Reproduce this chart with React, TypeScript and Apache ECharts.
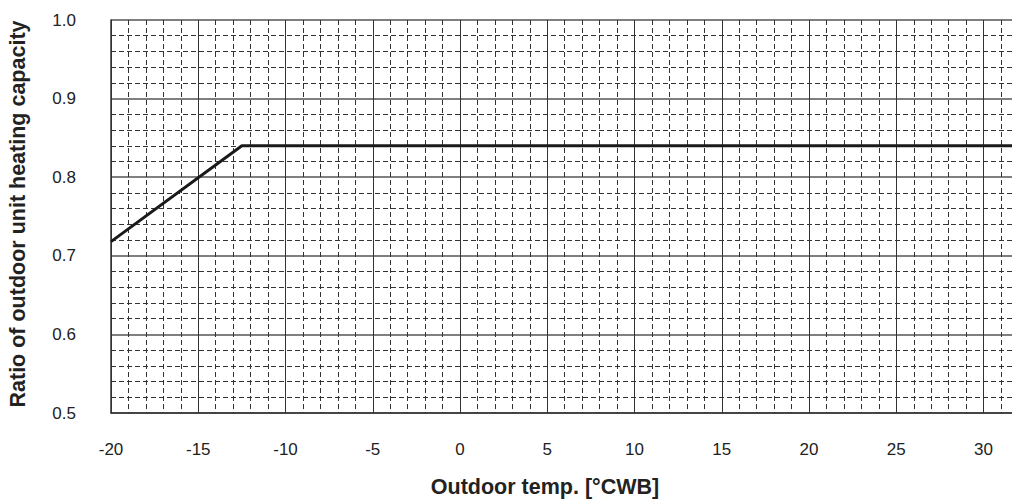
import React, { useEffect, useRef } from "react";
import * as echarts from "echarts";

const temps = [-20, -12.5, 32];
const ratios = [0.718, 0.84, 0.84];
const xTicks = [-20, -15, -10, -5, 0, 5, 10, 15, 20, 25, 30];
const yTicks = [0.5, 0.6, 0.7, 0.8, 0.9, 1.0];
const xTitle = "Outdoor temp. [°CWB]";
const yTitle = "Ratio of outdoor unit heating capacity";

export default function App() {
  const ref = useRef<HTMLDivElement>(null);
  useEffect(() => {
    if (!ref.current) return;
    const chart = echarts.init(ref.current, null, { renderer: "svg" });
    const font = "Liberation Sans, Arial, sans-serif";
    chart.setOption({
      animation: false,
      backgroundColor: "#ffffff",
      grid: { left: 111, top: 20, right: 0, bottom: 86, containLabel: false },
      xAxis: {
        type: "value",
        min: xTicks[0],
        max: 31.63,
        interval: 5,
        minorTick: { show: false, splitNumber: 5 },
        axisLine: { show: true, onZero: false, lineStyle: { color: "#333", width: 1.5 } },
        axisTick: { show: false },
        axisLabel: {
          margin: 28,
          fontSize: 17,
          fontFamily: font,
          color: "#222",
          showMaxLabel: false,
          formatter: (v: number) => (xTicks.includes(v) ? String(v) : ""),
        },
        splitLine: { show: true, lineStyle: { color: "#333", width: 1 } },
        minorSplitLine: { show: true, lineStyle: { color: "#333", width: 1, type: [5, 3] } },
      },
      yAxis: {
        type: "value",
        min: yTicks[0],
        max: yTicks[yTicks.length - 1],
        interval: 0.1,
        minorTick: { show: false, splitNumber: 5 },
        axisLine: { show: true, onZero: false, lineStyle: { color: "#333", width: 1.5 } },
        axisTick: { show: false },
        axisLabel: {
          margin: 35,
          fontSize: 17,
          fontFamily: font,
          color: "#222",
          formatter: (v: number) => v.toFixed(1),
        },
        splitLine: { show: true, showMinLine: true, showMaxLine: true, lineStyle: { color: "#555", width: 1.5 } },
        minorSplitLine: { show: true, lineStyle: { color: "#333", width: 1, type: [5, 3] } },
      },
      series: [
        {
          type: "line",
          data: temps.map((t, i) => [t, ratios[i]]),
          showSymbol: false,
          symbol: "none",
          clip: true,
          lineStyle: { color: "#1a1a1a", width: 3 },
        },
      ],
      graphic: [
        {
          type: "text",
          x: 545,
          y: 487,
          style: {
            text: xTitle,
            fontSize: 21.5,
            fontWeight: "bold",
            fontFamily: font,
            fill: "#222",
            align: "center",
            verticalAlign: "middle",
          },
        },
        {
          type: "text",
          x: 18,
          y: 214,
          rotation: Math.PI / 2,
          style: {
            text: yTitle,
            fontSize: 21.5,
            fontWeight: "bold",
            fontFamily: font,
            fill: "#222",
            align: "center",
            verticalAlign: "middle",
          },
        },
      ],
    });
    return () => chart.dispose();
  }, []);
  return (
    <div
      ref={ref}
      style={{ position: "fixed", left: 0, top: 0, width: 1012, height: 499 }}
    />
  );
}
